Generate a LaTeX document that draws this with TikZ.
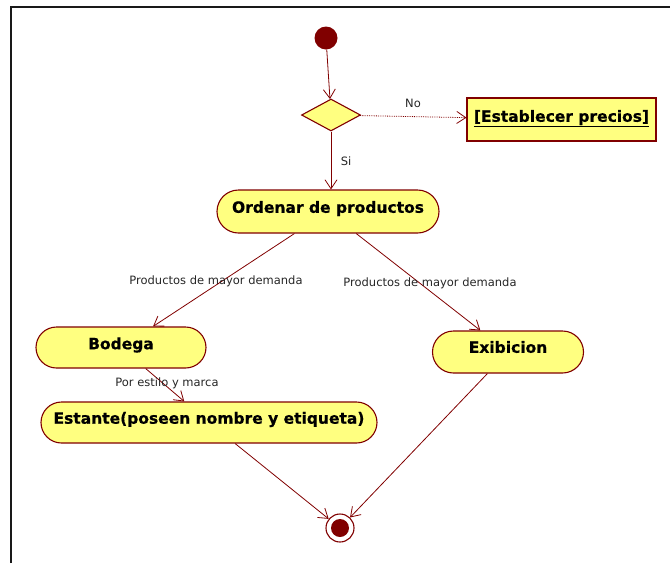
\documentclass[tikz,border=0pt]{standalone}
\usepackage{fontspec}
\setmainfont{DejaVu Sans}
\newfontfamily\heavyfont[FakeBold=0.6]{DejaVu Sans Bold}
\usetikzlibrary{arrows.meta,shapes.geometric,shapes.misc}
\definecolor{umlline}{RGB}{128,0,0}
\definecolor{umlfill}{RGB}{255,255,128}
\definecolor{frameline}{RGB}{25,25,25}
\tikzset{
  flow/.style={draw=umlline, line width=0.8pt, -{Straight Barb[length=9pt,width=12pt,line width=0.8pt]}},
  guard/.style={flow, densely dotted},
  act/.style={draw=umlline, fill=umlfill, line width=1.1pt, rounded rectangle, inner sep=0pt},
  boxact/.style={draw=umlline, fill=umlfill, line width=1.1pt, rectangle, inner sep=0pt},
  acttext/.style={font=\fontsize{15.5}{18}\heavyfont, inner sep=0pt},
  edgetext/.style={font=\fontsize{11.5}{13}\selectfont, text=black!85, inner sep=0pt},
  choice/.style={draw=umlline, fill=umlfill, line width=1.1pt, diamond, inner sep=0pt, minimum width=59pt, minimum height=32pt},
}
\begin{document}
\begin{tikzpicture}[x=1pt,y=-1pt]
\useasboundingbox (0,0) rectangle (670,563);
% outer frame (top and left edges)
\draw[frameline, line width=2pt] (11,563) -- (11,6.5) -- (670,6.5);

% start, decision and end nodes
\node[circle, fill=umlline, minimum size=23pt, inner sep=0pt] (start) at (326,38) {};
\node[choice] (dec) at (331,115) {};
\node[circle, draw=umlline, fill=white, line width=1.1pt, minimum size=28pt, inner sep=0pt] (stop) at (340,528) {};
\node[circle, fill=umlline, minimum size=18pt, inner sep=0pt] (stopdot) at (stop.center) {};

% activities
\node[boxact, minimum width=189pt, minimum height=43pt,
      label={[acttext, yshift=1pt]center:\underline{[Establecer precios]}}] (precios) at (561.5,119.5) {};
\node[act, minimum width=222pt, minimum height=43pt,
      label={[acttext, yshift=3pt]center:Ordenar de productos}] (ordenar) at (328,211.5) {};
\node[act, minimum width=170pt, minimum height=41pt,
      label={[acttext, yshift=2.5pt]center:Bodega}] (bodega) at (121,347.5) {};
\node[act, minimum width=151pt, minimum height=42pt,
      label={[acttext, yshift=5pt]center:Exibicion}] (exib) at (508,352) {};
\node[act, minimum width=336pt, minimum height=41pt,
      label={[acttext, yshift=3pt]center:Estante(poseen nombre y etiqueta)}] (estante) at (209,422.5) {};

% connectors
\draw[flow] (start) -- (dec);
\draw[guard] (dec) -- (precios);
\draw[flow] (dec) -- (dec.south |- ordenar.north);
\draw[flow] (ordenar) -- (bodega);
\draw[flow] (ordenar) -- (exib);
\draw[flow] (bodega) -- (estante);
\draw[flow] (estante) -- (stop);
\draw[flow] (exib) -- (stop);

% connector labels
\node[edgetext] (lno) at (413,103) {No};
\node[edgetext] (lsi) at (346,161) {Si};
\node[edgetext] (lleft) at (216,281) {Productos de mayor demanda};
\node[edgetext] (lright) at (430,283) {Productos de mayor demanda};
\node[edgetext] (lestilo) at (167,383) {Por estilo y marca};
\end{tikzpicture}
\end{document}
